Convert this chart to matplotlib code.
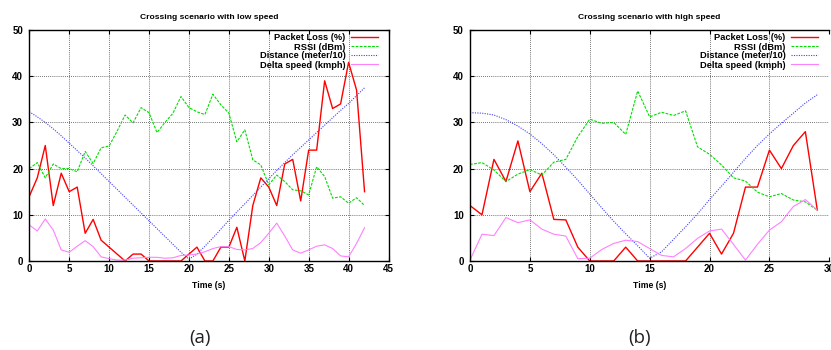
import numpy as np
import matplotlib
matplotlib.use("Agg")
import matplotlib.pyplot as plt

plt.rcParams['font.family'] = ['Liberation Sans', 'DejaVu Sans']

# ---------------- data ----------------
time_low = list(range(0, 43))
loss_low = [14, 18, 25, 12, 19, 15, 16, 6, 9, 4.5,
            3, 1.5, 0, 1.5, 1.5, 0, 0, 0, 0, 0,
            1.5, 3, 0, 0, 3, 3, 7.3, 0, 12, 18,
            16, 12, 21, 22, 13, 24, 24, 39, 33, 34,
            43, 37, 15]
rssi_low = [20, 21.3, 18, 21, 20, 20, 19.3, 23.7, 21.1, 24.5,
            24.9, 28.1, 31.6, 29.9, 33.2, 32.1, 27.8, 30, 32, 35.6,
            33.2, 32.3, 31.7, 36.1, 33.8, 32, 25.8, 28.4, 21.9, 20.8,
            16.5, 18.6, 17.2, 15.4, 15.2, 14.3, 20.4, 18.3, 13.6, 13.9,
            12.5, 13.7, 12]
dist_low = [32.3, 31.2, 30.0, 28.6, 27.1, 25.5, 23.9, 22.3, 20.6, 18.9,
            17.2, 15.5, 13.8, 12.1, 10.4, 8.7, 7.0, 5.3, 3.6, 1.9,
            0.4, 1.5, 3.2, 5.0, 6.9, 8.8, 10.6, 12.4, 14.2, 16.0,
            17.8, 19.6, 21.3, 23.0, 24.6, 26.2, 27.8, 29.4, 31.0, 32.6,
            34.1, 35.8, 37.5]
dspeed_low = [7.8, 6.5, 9.1, 6.7, 2.4, 1.9, 3.2, 4.4, 3.1, 0.9,
              0.5, 0.2, 0.2, 0.6, 0.7, 0.8, 0.8, 0.6, 0.7, 1.2,
              1.3, 1.5, 2.0, 2.7, 3.1, 3.1, 2.5, 2.4, 2.7, 4.0,
              6.0, 8.2, 5.4, 2.4, 1.7, 2.4, 3.2, 3.5, 2.7, 1.1,
              0.9, 3.8, 7.2]

time_high = list(range(0, 30))
loss_high = [12, 10, 22, 17.2, 26, 15, 19, 9, 8.9, 3,
             0, 0, 0, 3, 0, 0, 0, 0, 0, 3,
             6, 1.5, 6, 16, 16, 24, 20, 25, 28, 11]
rssi_high = [20.9, 21.3, 19.7, 17.2, 18.8, 19.8, 18.6, 21.4, 22, 26.9,
             30.7, 29.8, 30, 27.4, 36.8, 31.2, 32.2, 31.5, 32.5, 24.7,
             23.1, 20.8, 18, 17.3, 14.9, 13.9, 14.6, 13.2, 12.8, 11]
dist_high = [32.1, 32.0, 31.6, 30.6, 29.2, 27.5, 25.4, 23.0, 20.3, 17.5,
             14.5, 11.5, 8.6, 5.9, 3.3, 0.6, 2.0, 4.7, 7.4, 10.2,
             13.3, 16.2, 19.2, 22.2, 25.0, 27.5, 29.8, 32.0, 34.2, 36.0]
dspeed_high = [0.2, 5.8, 5.5, 9.4, 8.3, 8.9, 6.9, 5.8, 5.4, 0.5,
               0.6, 2.5, 3.8, 4.5, 4.2, 2.7, 1.2, 0.9, 2.7, 4.9,
               6.5, 6.9, 3.6, 0.2, 3.6, 6.7, 8.5, 11.8, 13.3, 11]

series_labels = ["Packet Loss (%)", "RSSI (dBm)", "Distance (meter/10)", "Delta speed (kmph)"]
titles = ["Crossing scenario with low speed", "Crossing scenario with high speed"]
xlabel = "Time (s)"
panel_tags = ["(a)", "(b)"]
xticks_low = [0, 5, 10, 15, 20, 25, 30, 35, 40, 45]
xticks_high = [0, 5, 10, 15, 20, 25, 30]
yticks = [0, 10, 20, 30, 40, 50]

W, H = 831, 350
fig = plt.figure(figsize=(W / 100, H / 100), dpi=100)


def px_axes(x0, x1, ytop, ybot):
    return fig.add_axes([x0 / W, (H - ybot) / H, (x1 - x0) / W, (ybot - ytop) / H])


ax1 = px_axes(29.3, 388.5, 30, 261)
ax2 = px_axes(470, 829.3, 30, 261)

styles = [
    dict(color='#ff0000', lw=1.0, ls='-'),
    dict(color='#00dd00', lw=0.8, ls=(0, (2.5, 1.2))),
    dict(color='#4040ff', lw=0.8, ls=(0, (1, 1.2))),
    dict(color='#ff80ff', lw=0.8, ls='-'),
]

panels = [
    (ax1, time_low, [loss_low, rssi_low, dist_low, dspeed_low], (0, 45), xticks_low, 378, 200),
    (ax2, time_high, [loss_high, rssi_high, dist_high, dspeed_high], (0, 30), xticks_high, 818, 640),
]

for i, (ax, t, ys, xlim, xt, leg_x, tag_x) in enumerate(panels):
    for y, st, lab in zip(ys, styles, series_labels):
        ax.plot(t, y, label=lab, **st)
    ax.set_xlim(*xlim)
    ax.set_ylim(0, 50)
    ax.set_xticks(xt)
    ax.set_yticks(yticks)
    ax.grid(True, color='#444444', lw=0.6, ls=(0, (1, 1.5)))
    ax.tick_params(direction='in', length=3, width=0.8, labelsize=7,
                   top=True, right=(i == 0))
    ax.tick_params(axis='x', pad=2.5)
    ax.tick_params(axis='y', pad=4.5)
    for lab in ax.get_xticklabels() + ax.get_yticklabels():
        lab.set_fontweight('bold')
    for sp in ax.spines.values():
        sp.set_linewidth(1.0)
    if i == 1:
        ax.spines['right'].set_visible(False)
    ax.set_title(titles[i], fontsize=6.1, fontweight='bold', pad=8)
    ax.set_xlabel(xlabel, fontsize=6.2, fontweight='bold', labelpad=4.5)
    leg = ax.legend(loc='upper right', bbox_to_anchor=(leg_x / W, (H - 33.5) / H),
                    bbox_transform=fig.transFigure, frameon=False, markerfirst=False,
                    prop=dict(size=6.7, weight='bold'), handlelength=2.9,
                    handletextpad=0.6, labelspacing=0.0, borderpad=0, borderaxespad=0)
    fig.text(tag_x / W, (H - 338) / H, panel_tags[i], fontsize=13.5, color='#222222',
             ha='center', va='center', family=['Open Sans', 'DejaVu Sans'])

fig.savefig("out.png", dpi=100)
